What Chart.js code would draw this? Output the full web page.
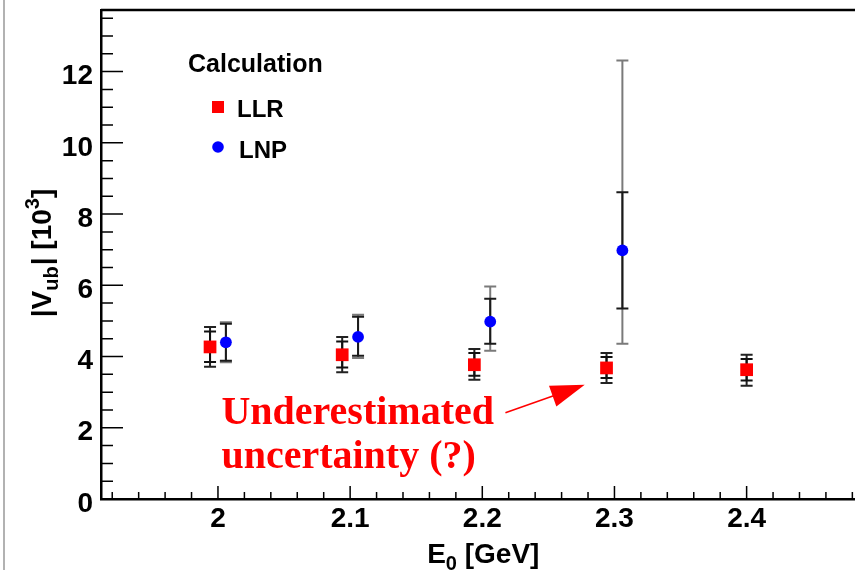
<!DOCTYPE html>
<html>
<head>
<meta charset="utf-8">
<script src="https://cdn.jsdelivr.net/npm/chart.js@4.4.0/dist/chart.umd.min.js"></script>
<style>
  html, body { margin: 0; padding: 0; background: #fff; overflow: hidden; }
  #chart { display: block; }
</style>
</head>
<body>
<canvas id="chart" width="855" height="570"></canvas>
<script>
// |Vub| [10^-3] vs E0 cut [GeV], two calculations
const llrX = [1.994, 2.094, 2.194, 2.294, 2.400];
const llrVal = [4.27, 4.05, 3.77, 3.68, 3.63];
const llrStatLo = [3.85, 3.69, 3.46, 3.40, 3.33];
const llrStatHi = [4.70, 4.42, 4.10, 3.99, 3.93];
const llrTotLo = [3.71, 3.56, 3.35, 3.26, 3.18];
const llrTotHi = [4.83, 4.55, 4.21, 4.10, 4.05];

const lnpX = [2.006, 2.106, 2.206, 2.306];
const lnpVal = [4.40, 4.55, 4.98, 6.98];
const lnpStatLo = [3.88, 4.02, 4.36, 5.35];
const lnpStatHi = [4.92, 5.12, 5.62, 8.61];
const lnpTotLo = [3.84, 3.96, 4.16, 4.36];
const lnpTotHi = [4.96, 5.17, 5.97, 12.31];

const xTickLabels = [2.0, 2.1, 2.2, 2.3, 2.4];
const yTickLabels = [0, 2, 4, 6, 8, 10, 12];

const SANS = "'Liberation Sans', Arial, sans-serif";
const SERIF = "'Liberation Serif', 'Times New Roman', serif";

// error bars: total (outer) first, then stat (inner) on top
const errorBars = {
  id: "errorBars",
  beforeDatasetsDraw(chart) {
    const { ctx, scales: { x, y } } = chart;
    const bar = (xv, lo, hi, color) => {
      const px = x.getPixelForValue(xv);
      const t = y.getPixelForValue(hi);
      const b = y.getPixelForValue(lo);
      ctx.strokeStyle = color;
      ctx.lineWidth = 2;
      ctx.beginPath();
      ctx.moveTo(px, t); ctx.lineTo(px, b);
      ctx.moveTo(px - 6, t); ctx.lineTo(px + 6, t);
      ctx.moveTo(px - 6, b); ctx.lineTo(px + 6, b);
      ctx.stroke();
    };
    ctx.save();
    llrX.forEach((xv, i) => {
      bar(xv, llrTotLo[i], llrTotHi[i], "#222");
      bar(xv, llrStatLo[i], llrStatHi[i], "#111");
    });
    lnpX.forEach((xv, i) => {
      bar(xv, lnpTotLo[i], lnpTotHi[i], "#7a7a7a");
      bar(xv, lnpStatLo[i], lnpStatHi[i], "#1a1a1a");
    });
    ctx.restore();
  },
};

// ROOT-like frame: inward ticks, top border, titles, legend, note
const decorations = {
  id: "decorations",
  afterDraw(chart) {
    const { ctx, chartArea: a, scales: { x, y } } = chart;
    ctx.save();

    // page edge line on the far left
    ctx.strokeStyle = "#999";
    ctx.lineWidth = 1.5;
    ctx.beginPath();
    ctx.moveTo(4, 0); ctx.lineTo(4, 570);
    ctx.stroke();

    // top border of the frame
    ctx.strokeStyle = "#000";
    ctx.lineWidth = 2.5;
    ctx.beginPath();
    ctx.moveTo(a.left, a.top); ctx.lineTo(a.right, a.top);
    ctx.stroke();

    // tick marks
    ctx.lineWidth = 1.5;
    ctx.beginPath();
    for (let i = 1; i <= 27; i++) {
      const py = y.getPixelForValue(i * 0.5);
      const len = i % 4 === 0 ? 22 : 12;
      ctx.moveTo(a.left, py); ctx.lineTo(a.left + len, py);
    }
    for (let i = 96; i <= 124; i++) {
      const px = x.getPixelForValue(i * 0.02);
      const len = i % 5 === 0 ? 13 : 7;
      ctx.moveTo(px, a.bottom); ctx.lineTo(px, a.bottom - len);
    }
    ctx.stroke();

    // axis titles with sub/superscripts
    const rich = (parts, cx, cy) => {
      let w = 0;
      parts.forEach(p => {
        ctx.font = "bold " + p.size + "px " + SANS;
        w += ctx.measureText(p.t).width + (p.gap || 0);
      });
      let cur = cx - w / 2;
      ctx.textAlign = "left";
      ctx.textBaseline = "alphabetic";
      parts.forEach(p => {
        ctx.font = "bold " + p.size + "px " + SANS;
        ctx.fillText(p.t, cur, cy + (p.dy || 0));
        cur += ctx.measureText(p.t).width + (p.gap || 0);
      });
    };
    ctx.fillStyle = "#000";
    rich([
      { t: "E", size: 28 },
      { t: "0", size: 20, dy: 7 },
      { t: " [GeV]", size: 28 },
    ], x.getPixelForValue(2.2) + 1, 563);

    ctx.save();
    ctx.translate(51, 253);
    ctx.rotate(-Math.PI / 2);
    rich([
      { t: "|V", size: 28 },
      { t: "ub", size: 20, dy: 7, gap: 1 },
      { t: "| [10", size: 28 },
      { t: "3", size: 20, dy: -12 },
      { t: "]", size: 28 },
    ], 0, 0);
    ctx.restore();

    // legend
    ctx.textAlign = "left";
    ctx.font = "bold 25px " + SANS;
    ctx.fillText("Calculation", 188, 72);
    const ds = chart.data.datasets;
    ctx.fillStyle = ds[0].backgroundColor;
    ctx.fillRect(212, 101, 12, 12);
    ctx.fillStyle = ds[1].backgroundColor;
    ctx.beginPath();
    ctx.arc(218, 147, 5.8, 0, Math.PI * 2);
    ctx.fill();
    ctx.fillStyle = "#000";
    ctx.font = "bold 24px " + SANS;
    ctx.fillText(ds[0].label, 237, 117);
    ctx.fillText(ds[1].label, 239, 158);

    // annotation
    ctx.fillStyle = "#ff0000";
    ctx.font = "bold 40px " + SERIF;
    ctx.fillText("Underestimated", x.getPixelForValue(2.0026), y.getPixelForValue(2.11));
    ctx.fillText("uncertainty (?)", x.getPixelForValue(2.0026), y.getPixelForValue(0.88));

    const x0 = x.getPixelForValue(2.2175), y0 = y.getPixelForValue(2.42);
    const x1 = x.getPixelForValue(2.2775), y1 = y.getPixelForValue(3.21);
    const ang = Math.atan2(y1 - y0, x1 - x0);
    ctx.strokeStyle = "#ff0000";
    ctx.lineWidth = 1.5;
    ctx.beginPath();
    ctx.moveTo(x0, y0); ctx.lineTo(x1 - 30 * Math.cos(ang), y1 - 30 * Math.sin(ang));
    ctx.stroke();
    ctx.beginPath();
    ctx.moveTo(x1, y1);
    ctx.lineTo(x1 - 34 * Math.cos(ang) + 11 * Math.sin(ang), y1 - 34 * Math.sin(ang) - 11 * Math.cos(ang));
    ctx.lineTo(x1 - 34 * Math.cos(ang) - 11 * Math.sin(ang), y1 - 34 * Math.sin(ang) + 11 * Math.cos(ang));
    ctx.closePath();
    ctx.fill();

    ctx.restore();
  },
};

const ctx = document.getElementById("chart").getContext("2d");

new Chart(ctx, {
  type: "scatter",
  data: {
    datasets: [
      {
        label: "LLR",
        data: llrX.map((xv, i) => ({ x: xv, y: llrVal[i] })),
        backgroundColor: "#ff0000",
        borderWidth: 0,
        pointStyle: "rect",
        pointRadius: 9,
      },
      {
        label: "LNP",
        data: lnpX.map((xv, i) => ({ x: xv, y: lnpVal[i] })),
        backgroundColor: "#0000ff",
        borderWidth: 0,
        pointStyle: "circle",
        pointRadius: 5.9,
      },
    ],
  },
  options: {
    responsive: false,
    animation: false,
    devicePixelRatio: 1,
    layout: { autoPadding: false, padding: { top: 10, left: 0, right: 0, bottom: 0 } },
    plugins: {
      legend: { display: false },
      tooltip: { enabled: false },
    },
    scales: {
      x: {
        type: "linear",
        min: 1.9115,
        max: 2.482,
        afterBuildTicks: (scale) => { scale.ticks = xTickLabels.map(v => ({ value: v })); },
        afterFit: (scale) => {
          scale.height = 71;
          scale.paddingLeft = 0;
          scale.paddingRight = 0;
        },
        grid: { display: false, drawTicks: false },
        border: { display: true, color: "#000", width: 2.5 },
        ticks: {
          padding: 3,
          color: "#000",
          font: { family: SANS, size: 28, weight: "bold" },
          callback: (v) => String(+v.toFixed(1)),
        },
      },
      y: {
        type: "linear",
        min: 0,
        max: 13.73,
        afterBuildTicks: (scale) => { scale.ticks = yTickLabels.map(v => ({ value: v })); },
        afterFit: (scale) => {
          scale.width = 101;
          scale.paddingTop = 0;
          scale.paddingBottom = 0;
        },
        grid: { display: false, drawTicks: false },
        border: { display: true, color: "#000", width: 2.5 },
        ticks: {
          padding: 8,
          labelOffset: 5,
          color: "#000",
          font: { family: SANS, size: 28, weight: "bold" },
        },
      },
    },
  },
  plugins: [errorBars, decorations],
});
</script>
</body>
</html>
